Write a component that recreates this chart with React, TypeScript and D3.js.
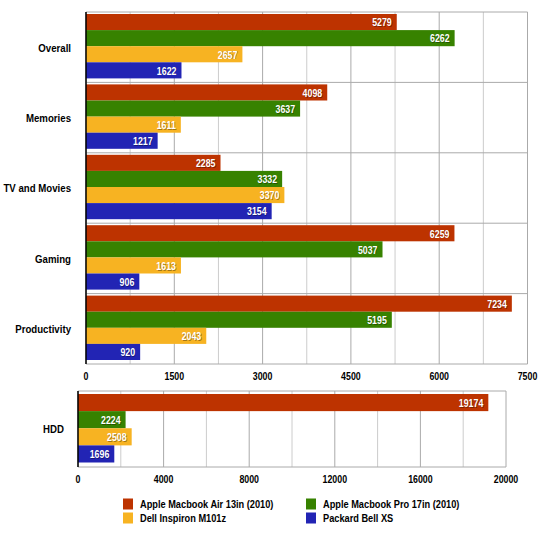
import React from "react";
import * as d3 from "d3";

const categories = ["Overall", "Memories", "TV and Movies", "Gaming", "Productivity"];
const seriesNames = [
  "Apple Macbook Air 13in (2010)",
  "Apple Macbook Pro 17in (2010)",
  "Dell Inspiron M101z",
  "Packard Bell XS",
];
const colors = ["#bd3300", "#378200", "#f7b322", "#2224b4"];
// values per series, per category
const airValues = [5279, 4098, 2285, 6259, 7234];
const proValues = [6262, 3637, 3332, 5037, 5195];
const dellValues = [2657, 1611, 3370, 1613, 2043];
const packardValues = [1622, 1217, 3154, 906, 920];
const topTicks = [0, 1500, 3000, 4500, 6000, 7500];

const hddCategory = ["HDD"];
const hddValues = [19174, 2224, 2508, 1696];
const bottomTicks = [0, 4000, 8000, 12000, 16000, 20000];

const SX = 0.84;
const FONT = "'Liberation Sans', Arial, sans-serif";

function T({ x, y, size, anchor, fill, children, shadow }: any) {
  const tr = (dx: number, dy: number) => `translate(${x + dx},${y + dy}) scale(${SX},1)`;
  return (
    <g>
      {shadow && (
        <text transform={tr(0.8, 0.8)} fontSize={size} fontWeight="bold" fontFamily={FONT}
          textAnchor={anchor} dominantBaseline="central" fill="rgba(0,0,0,0.35)">{children}</text>
      )}
      <text transform={tr(0, 0)} fontSize={size} fontWeight="bold" fontFamily={FONT}
        textAnchor={anchor} dominantBaseline="central" fill={fill}>{children}</text>
    </g>
  );
}

function Panel({ cats, data, x0, x1, y0, y1, max, ticks, minorStep, tickY, labelX, padTop, padBottom }: any) {
  const x = d3.scaleLinear().domain([0, max]).range([x0, x1]);
  const band = d3.scaleBand().domain(cats).range([y0, y1]);
  const minor = d3.range(0, max + 1, minorStep);
  return (
    <g>
      {minor.map((v: number) => (
        <line key={"g" + v} x1={x(v)} x2={x(v)} y1={y0} y2={y1}
          stroke={ticks.includes(v) ? "#aaaaaa" : "#cccccc"} strokeWidth={1} />
      ))}
      {cats.map((c: string, i: number) => (
        <line key={"h" + c} x1={x0} x2={x1} y1={band(c)!} y2={band(c)!} stroke="#aaaaaa" />
      ))}
      <line x1={x0} x2={x1} y1={y1} y2={y1} stroke="#aaaaaa" />
      {cats.map((c: string, ci: number) => {
        const top = band(c)! + padTop;
        const bh = (band.bandwidth() - padTop - padBottom) / data.length;
        return (
          <g key={c}>
            {data.map((vals: number[], si: number) => {
              const v = vals[ci];
              const yy = top + si * bh;
              return (
                <g key={si}>
                  <rect x={x0} y={yy} width={x(v) - x0} height={bh} fill={colors[si]} />
                  <T x={x(v) - 5} y={yy + bh / 2 + 0.5} size={10.5} anchor="end" fill="#ffffff" shadow>
                    {String(v)}
                  </T>
                </g>
              );
            })}
            <T x={labelX} y={band(c)! + band.bandwidth() / 2} size={11.5} anchor="end" fill="#000">{c}</T>
          </g>
        );
      })}
      <line x1={x0} x2={x0} y1={y0} y2={y1} stroke="#000" strokeWidth={1.5} />
      {ticks.map((t: number) => (
        <T key={"t" + t} x={x(t)} y={tickY} size={10.5} anchor="middle" fill="#000">{String(t)}</T>
      ))}
    </g>
  );
}

export default function App() {
  const topData = [airValues, proValues, dellValues, packardValues];
  const hddData = hddValues.map((v) => [v]);
  const legend = [
    { x: 123, y: 504, i: 0 },
    { x: 306, y: 504, i: 1 },
    { x: 123, y: 518, i: 2 },
    { x: 306, y: 518, i: 3 },
  ];
  return (
    <svg width={545} height={543} style={{ position: "absolute", left: 0, top: 0, background: "#fff" }}>
      <rect width={545} height={543} fill="#fff" />
      <Panel cats={categories} data={topData} x0={86} x1={527.5} y0={12} y1={364} max={7500}
        ticks={topTicks} minorStep={750} tickY={376} labelX={71} padTop={2} padBottom={4} />
      <Panel cats={hddCategory} data={hddData} x0={78} x1={506} y0={391} y1={467} max={20000}
        ticks={bottomTicks} minorStep={2000} tickY={479.5} labelX={64} padTop={3} padBottom={4.5} />
      {legend.map((l) => (
        <g key={l.i}>
          <rect x={l.x} y={l.y - 5.5} width={10} height={11} fill={colors[l.i]} />
          <T x={l.x + 17} y={l.y} size={11} anchor="start" fill="#000">{seriesNames[l.i]}</T>
        </g>
      ))}
    </svg>
  );
}
